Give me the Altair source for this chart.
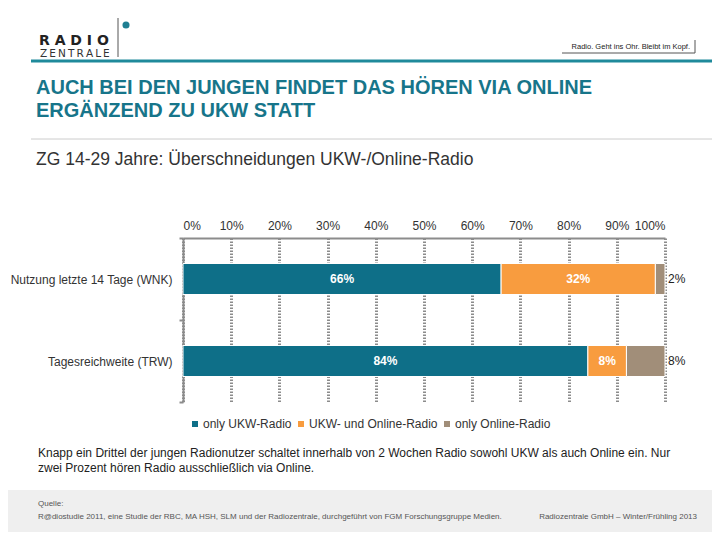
import altair as alt
import pandas as pd

# ---------------- data ----------------
categories = ["Nutzung letzte 14 Tage (WNK)", "Tagesreichweite (TRW)"]
series = ["only UKW-Radio", "UKW- und Online-Radio", "only Online-Radio"]
ukw_only = [66, 84]
ukw_and_online = [32, 8]
online_only = [2, 8]
colors = ["#0e6f88", "#f89c3f", "#a18e79"]
tick_values = list(range(0, 101, 10))

title_lines = ["AUCH BEI DEN JUNGEN FINDET DAS HÖREN VIA ONLINE", "ERGÄNZEND ZU UKW STATT"]
subtitle = "ZG 14-29 Jahre: Überschneidungen UKW-/Online-Radio"
note_lines = [
    "Knapp ein Drittel der jungen Radionutzer schaltet innerhalb von 2 Wochen Radio sowohl UKW als auch Online ein. Nur",
    "zwei Prozent hören Radio ausschließlich via Online.",
]
source_lines = [
    "Quelle:",
    "R@diostudie 2011, eine Studie der RBC, MA HSH, SLM und der Radiozentrale, durchgeführt von FGM Forschungsgruppe Medien.",
]
footer_right = "Radiozentrale GmbH – Winter/Frühling 2013"
tagline = "Radio. Geht ins Ohr. Bleibt im Kopf."
logo_top = "R A D I O"
logo_bottom = "Z\u2009E\u2009N\u2009T\u2009R\u2009A\u2009L\u2009E"

rows = []
for i, c in enumerate(categories):
    cum = 0
    for j, (s, vals) in enumerate(zip(series, [ukw_only, ukw_and_online, online_only])):
        v = vals[i]
        rows.append(dict(category=c, series=s, value=v, order=j,
                         mid=cum + v / 2, end=cum + v, label=f"{v}%"))
        cum += v
df = pd.DataFrame(rows)

FONT = "Liberation Sans, Arial, sans-serif"
NARROW = "Liberation Sans Narrow, Arial Narrow, Liberation Sans, sans-serif"
OX, OY = 183, 238  # plot origin on page
W, H = 482, 164

dummy = pd.DataFrame({"a": [0]})


def txt(t, x, y, **kw):
    kw.setdefault("font", FONT)
    kw.setdefault("baseline", "middle")
    kw.setdefault("align", "left")
    return alt.Chart(dummy).mark_text(text=t, **kw).encode(
        x=alt.value(x - OX), y=alt.value(y - OY))


def rect(x1, y1, x2, y2, color):
    return alt.Chart(dummy).mark_rect(color=color).encode(
        x=alt.value(x1 - OX), x2=alt.value(x2 - OX),
        y=alt.value(y1 - OY), y2=alt.value(y2 - OY))


def rule(x1, y1, x2, y2, color, w=1):
    return alt.Chart(dummy).mark_rule(color=color, strokeWidth=w).encode(
        x=alt.value(x1 - OX), x2=alt.value(x2 - OX),
        y=alt.value(y1 - OY), y2=alt.value(y2 - OY))


xscale = alt.Scale(domain=[0, 100], nice=False, zero=True)
yscale = alt.Scale(domain=categories, paddingInner=0, paddingOuter=0)

bars = alt.Chart(df).mark_bar(size=31, stroke="white", strokeWidth=1).encode(
    x=alt.X("value:Q", stack="zero", scale=xscale,
            axis=alt.Axis(orient="top", values=tick_values,
                          labelExpr="datum.value + '%'", grid=True, ticks=False,
                          title=None)),
    y=alt.Y("category:N", scale=yscale, sort=categories,
            axis=alt.Axis(title=None, tickBand="extent", ticks=True, tickSize=4,
                          labelPadding=7, grid=False, labelLimit=300)),
    color=alt.Color("series:N", scale=alt.Scale(domain=series, range=colors),
                    legend=alt.Legend(orient="none", legendX=6, legendY=180,
                                      direction="horizontal", title=None,
                                      symbolType="square", symbolSize=36,
                                      symbolStrokeWidth=0, labelFontSize=12,
                                      labelFont=FONT, labelColor="#333",
                                      columnPadding=3, symbolOffset=0,
                                      labelOffset=2)),
    order=alt.Order("order:Q"),
)

inner = alt.Chart(df).transform_filter("datum.order < 2").mark_text(
    color="white", fontWeight="bold", fontSize=12, font=FONT).encode(
    x=alt.X("mid:Q", scale=xscale, title=None),
    y=alt.Y("category:N", scale=yscale, sort=categories, title=None),
    text="label:N",
)
outer = alt.Chart(df).transform_filter("datum.order == 2").mark_text(
    color="#222", fontSize=12, font=FONT, align="left", dx=3).encode(
    x=alt.X("end:Q", scale=xscale, title=None),
    y=alt.Y("category:N", scale=yscale, sort=categories, title=None),
    text="label:N",
)

deco = [
    rect(0, 490, 720, 560, "#efefef"),
    # header
    rule(31, 61, 720, 61, "#1f8a9b", 3),
    rule(31, 139, 720, 139, "#cccccc", 1),
    txt(logo_top, 39, 45, font="DejaVu Sans", fontWeight="bold", fontSize=14,
        color="#222", baseline="alphabetic"),
    txt(logo_bottom, 40, 57, font="DejaVu Sans", fontSize=10.5, color="#333",
        baseline="alphabetic"),
    rule(118, 18, 118, 57, "#555555", 1),
    alt.Chart(dummy).mark_circle(size=50, color="#1f7f92", opacity=1).encode(
        x=alt.value(126 - OX), y=alt.value(25 - OY)),
    txt(tagline, 690, 47, fontSize=7.5, color="#222", align="right", font=NARROW),
    rule(562, 53, 695, 53, "#555555", 1),
    rule(695, 40, 695, 53, "#555555", 1),
    txt(title_lines[0], 36, 88, fontSize=20, fontWeight="bold", color="#17758a", font=NARROW),
    txt(title_lines[1], 36, 111, fontSize=20, fontWeight="bold", color="#17758a", font=NARROW),
    txt(subtitle, 36, 160, fontSize=17.5, color="#333"),
    txt(note_lines[0], 38, 453, fontSize=12, color="#222", font=NARROW),
    txt(note_lines[1], 38, 468, fontSize=12, color="#222", font=NARROW),
    txt(source_lines[0], 38, 504, fontSize=8, color="#555"),
    txt(source_lines[1], 38, 517, fontSize=8, color="#555"),
    txt(footer_right, 697, 517, fontSize=8, color="#555", align="right"),
]

chart = alt.layer(*deco, bars, inner, outer).properties(
    width=W, height=H,
    autosize=alt.AutoSizeParams(type="none"),
    padding={"left": 175, "top": 230, "right": 47, "bottom": 130},
).configure_view(stroke=None).configure_axis(
    labelFont=FONT, labelFontSize=12, labelColor="#333",
    domainColor="#8c8c8c", domainWidth=2, tickColor="#8c8c8c", tickWidth=2,
).configure_axisX(
    gridDash=[1.5, 1.5], gridColor="#8c8c8c", gridWidth=3, labelPadding=6,
)

chart.save("out.html", embed_options={"renderer": "svg", "actions": False})
